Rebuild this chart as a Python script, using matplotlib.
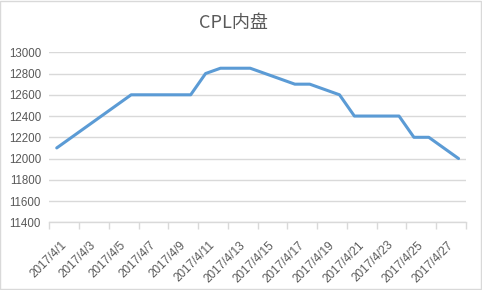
import matplotlib
matplotlib.use("Agg")
import matplotlib.pyplot as plt
import matplotlib.transforms as mtransforms
from matplotlib.patches import Rectangle
import pandas as pd

plt.rcParams['font.family'] = ['Liberation Sans', 'Noto Sans CJK SC', 'DejaVu Sans']

# data
dates = ["2017-04-01", "2017-04-05", "2017-04-06", "2017-04-07", "2017-04-10",
         "2017-04-11", "2017-04-12", "2017-04-13", "2017-04-14", "2017-04-17",
         "2017-04-18", "2017-04-19", "2017-04-20", "2017-04-21", "2017-04-24",
         "2017-04-25", "2017-04-26", "2017-04-27", "2017-04-28"]
prices = [12100, 12500, 12600, 12600, 12600,
          12800, 12850, 12850, 12850, 12700,
          12700, 12650, 12600, 12400, 12400,
          12200, 12200, 12100, 12000]
y_ticks = list(range(11400, 13001, 200))
label_days = ["2017-04-%02d" % d for d in range(1, 28, 2)]
title = "CPL内盘"

GRAY = "#595959"

x = pd.to_datetime(dates)
xl = pd.to_datetime(label_days)

fig = plt.figure(figsize=(4.82, 2.90), dpi=100)
ax = fig.add_axes([0.1023, 0.2334, 0.8645, 0.5863])

ax.plot(x, prices, color="#5B9BD5", linewidth=2.2, solid_joinstyle="round",
        solid_capstyle="round", zorder=3)

half = pd.Timedelta(hours=12)
ax.set_xlim(pd.Timestamp("2017-04-01") - half, pd.Timestamp("2017-04-28") + half)
ax.set_ylim(11400, 13000)
ax.set_yticks(y_ticks)
ax.set_yticklabels([str(v) for v in y_ticks], fontsize=8.3, color=GRAY)
ax.tick_params(axis="y", length=0, pad=6)
ax.yaxis.grid(True, color="#D9D9D9", linewidth=1.0)
ax.set_axisbelow(True)

# tick marks between day pairs, labels centred on the day
bounds = [pd.Timestamp("2017-04-01") - half + pd.Timedelta(days=2 * i) for i in range(15)]
ax.set_xticks(bounds)
ax.set_xticklabels([])
ax.tick_params(axis="x", length=5, color="#D9D9D9", width=1.0, direction="out")
ax.set_xticks(xl, minor=True)
ax.set_xticklabels([d.strftime("%Y/%-m/%-d") for d in xl], minor=True,
                   rotation=45, ha="right", va="top", rotation_mode="anchor",
                   fontsize=8.5, color=GRAY)
ax.tick_params(axis="x", which="minor", length=0, pad=12)
offset = mtransforms.ScaledTranslation(2.5 / 72, 0, fig.dpi_scale_trans)
for lab in ax.get_xticklabels(minor=True):
    lab.set_transform(lab.get_transform() + offset)

for s in ["top", "right", "left"]:
    ax.spines[s].set_visible(False)
ax.spines["bottom"].set_color("#D9D9D9")
ax.spines["bottom"].set_linewidth(1.0)

fig.text(0.485, 0.922, title, ha="center", va="center", fontsize=13,
         color=GRAY, family=["Noto Sans CJK SC", "DejaVu Sans"])

fig.patches.append(Rectangle((0.001, 0.002), 0.996, 0.995, transform=fig.transFigure,
                             fill=False, edgecolor="#D9D9D9", linewidth=1.0))

fig.savefig("out.png", dpi=100)
